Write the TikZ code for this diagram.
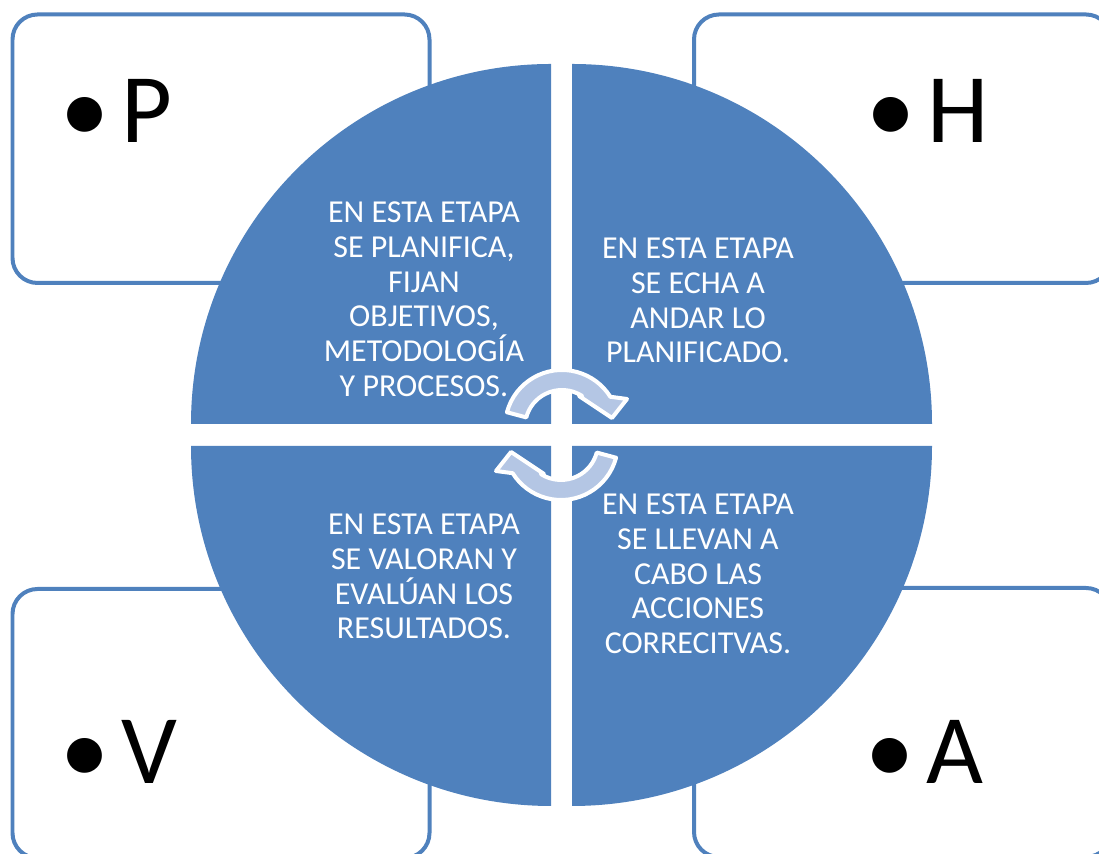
\documentclass[tikz,border=0pt]{standalone}
\usepackage{fontspec}
\setmainfont{Carlito}
\usetikzlibrary{calc}
\definecolor{quad}{HTML}{4F81BD}
\definecolor{frame}{HTML}{4F81BD}
\definecolor{cyclearrow}{HTML}{B4C6E4}
\tikzset{
  stagebox/.style={draw=frame, line width=0.08cm, rounded corners=0.5cm, fill=white},
  quarter/.style={fill=quad},
  stagetext/.style={text=white, align=center, inner sep=0pt, anchor=north, font=\fontsize{18.2}{19.9}\selectfont},
  letter/.style={anchor=base west, inner sep=0pt, font=\fontsize{56}{60}\selectfont},
  turn/.style={fill=cyclearrow, draw=white, line width=0.08cm, line join=round}
}
\begin{document}
\begin{tikzpicture}[x=0.02cm,y=0.02cm]
\useasboundingbox (0,0) rectangle (1099,854);
\clip (0,0) rectangle (1099,854);
\draw[stagebox] (12.5,571) rectangle (429.5,839.5);
\draw[stagebox] (694,571) rectangle (1111,839.5);
\draw[stagebox] (12.5,-4) rectangle (429.5,265);
\draw[stagebox] (694,-3) rectangle (1111,266);
\node[letter] (p) at (60,711) {•\hspace{0.12em}P};
\node[letter] (h) at (866,711) {•\hspace{0.12em}H};
\node[letter] (v) at (60,70) {•\hspace{0.12em}V};
\node[letter] (a) at (865,70) {•\hspace{0.12em}A};
\fill[quarter] (551,430) -- (191,430) arc[start angle=180, end angle=90, radius=360] -- cycle;
\fill[quarter] (572,430) -- (572,790) arc[start angle=90, end angle=0, radius=360] -- cycle;
\fill[quarter] (551,408) -- (551,48) arc[start angle=270, end angle=180, radius=360] -- cycle;
\fill[quarter] (572,408) -- (932,408) arc[start angle=0, end angle=-90, radius=360] -- cycle;
\node[stagetext] (plan) at (424,653) {EN ESTA ETAPA\\SE PLANIFICA,\\FIJAN\\OBJETIVOS,\\METODOLOGÍA\\Y PROCESOS.};
\node[stagetext] (hacer) at (698,617) {EN ESTA ETAPA\\SE ECHA A\\ANDAR LO\\PLANIFICADO.};
\node[stagetext] (actuar) at (698,361) {EN ESTA ETAPA\\SE LLEVAN A\\CABO LAS\\ACCIONES\\CORRECITVAS.};
\node[stagetext] (verificar) at (424,341) {EN ESTA ETAPA\\SE VALORAN Y\\EVALÚAN LOS\\RESULTADOS.};
\begin{scope}[shift={(562,427)}]
  \draw[turn] (165:37) -- (165:57) arc[start angle=165, end angle=32, radius=57]
    -- (65,28) -- (50,9) -- (17,31) -- (57:37) arc[start angle=57, end angle=165, radius=37] -- cycle;
\end{scope}
\begin{scope}[shift={(561,411)}, rotate=180]
  \draw[turn] (165:37) -- (165:57) arc[start angle=165, end angle=32, radius=57]
    -- (65,28) -- (50,9) -- (17,31) -- (57:37) arc[start angle=57, end angle=165, radius=37] -- cycle;
\end{scope}
\end{tikzpicture}
\end{document}
